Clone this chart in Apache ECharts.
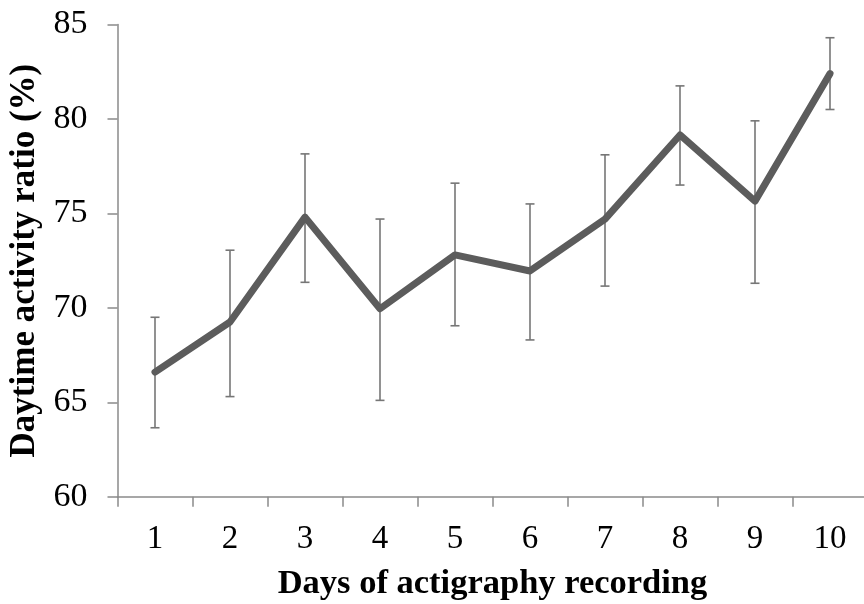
<!DOCTYPE html>
<html>
<head>
<meta charset="utf-8">
<script src="https://cdn.jsdelivr.net/npm/echarts@6/dist/echarts.min.js"></script>
<style>
html, body { margin: 0; padding: 0; background: #fff; }
#chart { width: 864px; height: 604px; }
</style>
</head>
<body>
<div id="chart"></div>
<script>
// Recording days on the x axis
const days = ['1', '2', '3', '4', '5', '6', '7', '8', '9', '10'];
// Mean daytime activity ratio (%) per day
const meanRatio = [66.6, 69.25, 74.8, 69.95, 72.8, 71.95, 74.7, 79.15, 75.65, 82.4];
// Upper and lower ends of the error bars
const errHigh = [69.5, 73.05, 78.15, 74.7, 76.6, 75.5, 78.1, 81.75, 79.9, 84.3];
const errLow = [63.65, 65.3, 71.35, 65.1, 69.05, 68.3, 71.15, 76.5, 71.3, 80.5];
// Value-axis range and step
const yMin = 60, yMax = 85, yStep = 5;

const serif = '"Liberation Serif", "Times New Roman", serif';
const axisGrey = '#8a8a8a';

const errData = days.map((d, i) => [i, errLow[i], errHigh[i]]);

const chart = echarts.init(document.getElementById('chart'), null, { renderer: 'canvas' });
chart.setOption({
  animation: false,
  backgroundColor: '#ffffff',
  grid: {
    left: 117.5, top: 24.5, width: 750, height: 472.2,
    containLabel: false,
    outerBoundsMode: 'none'
  },
  xAxis: {
    type: 'category',
    data: days,
    boundaryGap: true,
    name: 'Days of actigraphy recording',
    nameLocation: 'middle',
    nameGap: 70,
    nameTextStyle: { fontFamily: serif, fontWeight: 'bold', fontSize: 34.5, color: '#000' },
    axisLine: { lineStyle: { color: axisGrey, width: 1.5 } },
    axisTick: { show: true, alignWithLabel: false, length: 10, lineStyle: { color: axisGrey, width: 1.5 } },
    axisLabel: { fontFamily: serif, fontSize: 33, color: '#000', margin: 26 },
    splitLine: { show: false }
  },
  yAxis: {
    type: 'value',
    min: yMin,
    max: yMax,
    interval: yStep,
    name: 'Daytime activity ratio (%)',
    nameLocation: 'middle',
    nameGap: 67,
    nameRotate: 90,
    nameTextStyle: { fontFamily: serif, fontWeight: 'bold', fontSize: 35, color: '#000' },
    axisLine: { show: true, lineStyle: { color: axisGrey, width: 1.5 } },
    axisTick: { show: true, length: 10, lineStyle: { color: axisGrey, width: 1.5 } },
    axisLabel: { fontFamily: serif, fontSize: 34, color: '#000', margin: 30 },
    splitLine: { show: false }
  },
  series: [
    {
      type: 'custom',
      name: 'error',
      data: errData,
      z: 1,
      renderItem: function (params, api) {
        const x = api.value(0);
        const lo = api.coord([x, api.value(1)]);
        const hi = api.coord([x, api.value(2)]);
        const cap = 4.5;
        const style = { stroke: '#767676', lineWidth: 1.6, fill: null };
        return {
          type: 'group',
          children: [
            { type: 'line', shape: { x1: hi[0], y1: hi[1], x2: lo[0], y2: lo[1] }, style: style },
            { type: 'line', shape: { x1: hi[0] - cap, y1: hi[1], x2: hi[0] + cap, y2: hi[1] }, style: style },
            { type: 'line', shape: { x1: lo[0] - cap, y1: lo[1], x2: lo[0] + cap, y2: lo[1] }, style: style }
          ]
        };
      }
    },
    {
      type: 'line',
      name: 'mean',
      data: meanRatio,
      z: 2,
      symbol: 'none',
      lineStyle: { color: '#5c5c5c', width: 7, join: 'round', cap: 'round' }
    }
  ]
});
</script>
</body>
</html>
